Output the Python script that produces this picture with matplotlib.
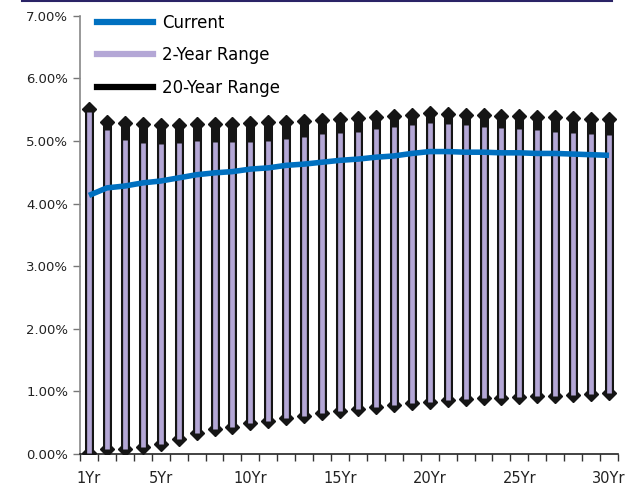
import matplotlib.pyplot as plt
from matplotlib.lines import Line2D

# curva de juros: atual, faixa de 2 anos e faixa de 20 anos por vencimento
vencimentos = [f'{n}Yr' for n in range(1, 31)]

atual = [4.13, 4.25, 4.28, 4.33, 4.36, 4.41, 4.46, 4.49, 4.51, 4.55,
         4.57, 4.61, 4.63, 4.66, 4.69, 4.71, 4.74, 4.76, 4.80, 4.83,
         4.83, 4.82, 4.82, 4.81, 4.81, 4.80, 4.80, 4.79, 4.78, 4.77]

max_2a = [5.46, 5.18, 5.02, 4.97, 4.95, 4.97, 5.00, 4.98, 4.98, 4.98,
          5.00, 5.03, 5.06, 5.11, 5.13, 5.14, 5.19, 5.22, 5.26, 5.29,
          5.27, 5.26, 5.22, 5.21, 5.19, 5.18, 5.14, 5.13, 5.11, 5.10]
min_2a = [0.02, 0.08, 0.08, 0.11, 0.16, 0.24, 0.34, 0.40, 0.43, 0.50,
          0.53, 0.58, 0.61, 0.65, 0.69, 0.72, 0.75, 0.78, 0.81, 0.83,
          0.86, 0.88, 0.89, 0.89, 0.91, 0.93, 0.93, 0.94, 0.96, 0.97]

max_20a = [5.51, 5.30, 5.29, 5.27, 5.26, 5.26, 5.27, 5.27, 5.27, 5.29,
           5.30, 5.30, 5.32, 5.34, 5.35, 5.36, 5.38, 5.40, 5.42, 5.45,
           5.43, 5.42, 5.42, 5.40, 5.40, 5.38, 5.38, 5.37, 5.35, 5.35]
min_20a = [0.02, 0.08, 0.08, 0.11, 0.16, 0.24, 0.34, 0.40, 0.43, 0.50,
           0.53, 0.58, 0.61, 0.65, 0.69, 0.72, 0.75, 0.78, 0.81, 0.83,
           0.86, 0.88, 0.89, 0.89, 0.91, 0.93, 0.93, 0.94, 0.96, 0.97]

rotulos_x = {1: '1Yr', 5: '5Yr', 10: '10Yr', 15: '15Yr', 20: '20Yr', 25: '25Yr', 30: '30Yr'}

azul = '#0070C0'
lilas = '#B4A7D6'
preto = '#151515'

fig = plt.figure(figsize=(6.29, 4.92), dpi=100)
ax = fig.add_axes([80 / 629, 38 / 492, 538 / 629, 438.3 / 492])

x = list(range(1, len(vencimentos) + 1))

# faixa de 20 anos: haste preta com losangos nas pontas
ax.vlines(x, min_20a, max_20a, color=preto, linewidth=6.5, zorder=2)
ax.plot(x, max_20a, linestyle='none', marker='D', markersize=7.6, color=preto, zorder=3)
ax.plot(x, min_20a, linestyle='none', marker='D', markersize=7.6, color=preto, zorder=3)

# faixa de 2 anos em lilás por dentro
ax.vlines(x, min_2a, max_2a, color=lilas, linewidth=3.4, zorder=4)

# curva atual
ax.plot(x, atual, color=azul, linewidth=4, solid_capstyle='butt', zorder=5)

ax.set_xlim(0.5, 30.5)
ax.set_ylim(0, 7)
ax.set_yticks([i for i in range(8)])
ax.set_yticklabels([f'{i:.2f}%' for i in range(8)], fontsize=9.5, color='#222222')

# rótulos centrados nas categorias, marcas entre elas
ax.set_xticks(list(rotulos_x.keys()))
ax.set_xticklabels(list(rotulos_x.values()), fontsize=10.5, color='#222222')
ax.tick_params(axis='x', length=0, pad=12)
ax.set_xticks([i + 0.5 for i in range(0, 31)], minor=True)
ax.tick_params(axis='x', which='minor', length=5, width=1, color='#333333', direction='out')
ax.tick_params(axis='y', length=5, width=1, color='#777777', direction='out')

for lado in ['top', 'right']:
    ax.spines[lado].set_visible(False)
ax.spines['left'].set_color('#888888')
ax.spines['left'].set_linewidth(1.2)
ax.spines['bottom'].set_color('#222222')
ax.spines['bottom'].set_linewidth(1.2)

legenda = [
    Line2D([0], [0], color=azul, linewidth=4.5),
    Line2D([0], [0], color=lilas, linewidth=4.5),
    Line2D([0], [0], color='black', linewidth=4.5),
]
ax.legend(legenda, ['Current', '2-Year Range', '20-Year Range'],
          loc='upper left', bbox_to_anchor=(0.0, 1.043), frameon=False,
          fontsize=12, handlelength=3.4, handletextpad=0.55,
          labelspacing=0.88, borderaxespad=0.6)

# linha fina no topo da figura
fig.add_artist(Line2D([22 / 629, 612 / 629], [1 - 1 / 492, 1 - 1 / 492],
                      color='#2a2366', linewidth=1.5, transform=fig.transFigure))

fig.savefig('out.png', dpi=100)
